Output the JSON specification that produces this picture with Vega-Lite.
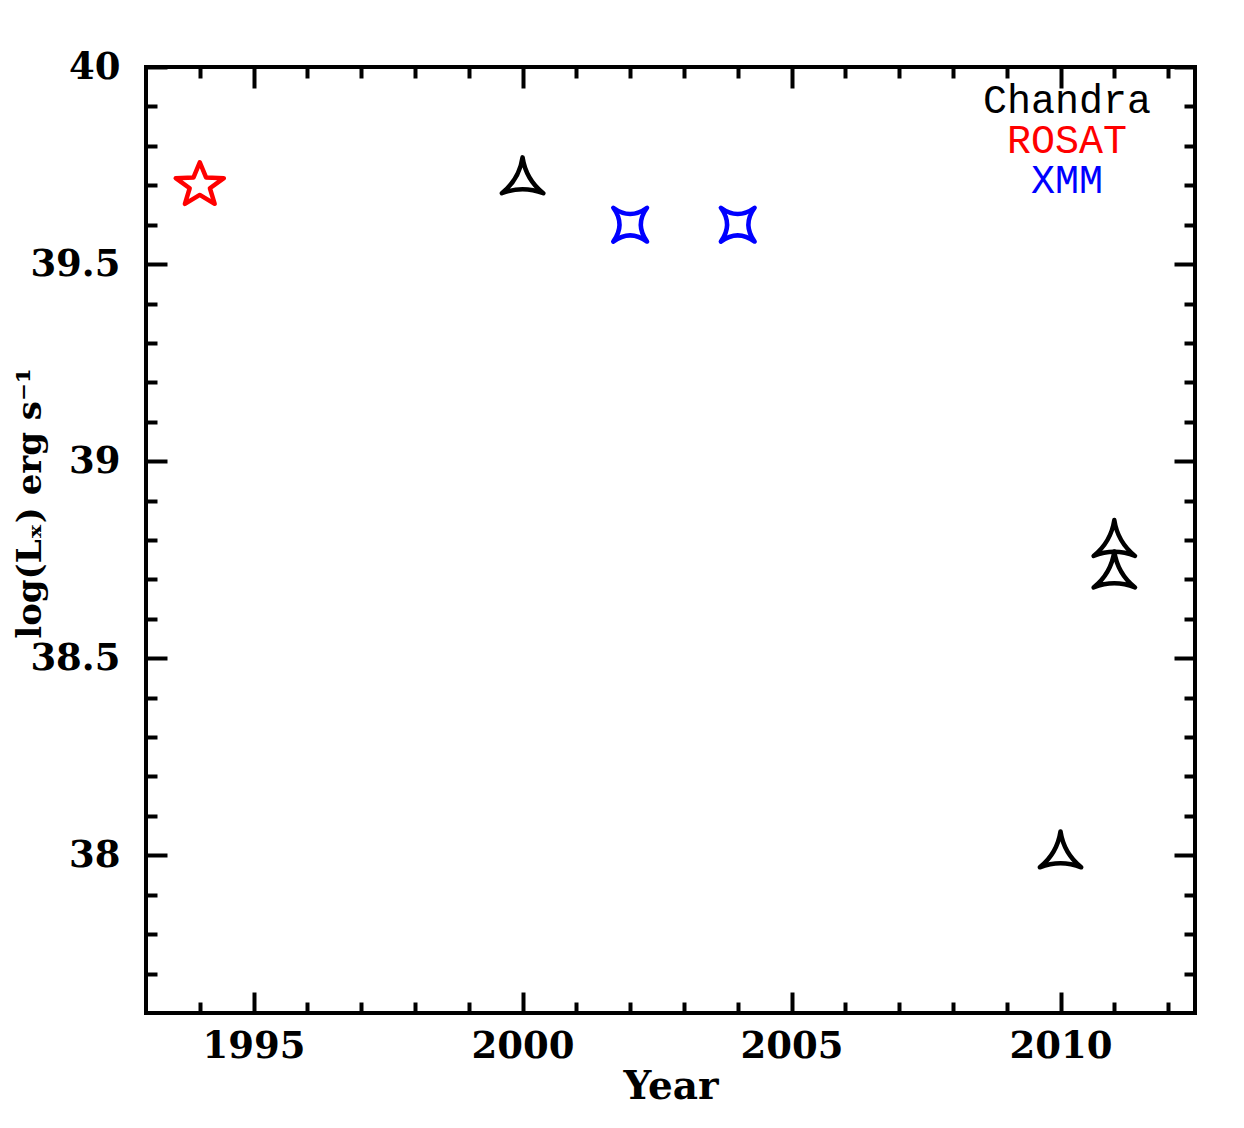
{
  "$schema": "https://vega.github.io/schema/vega-lite/v6.json",
  "width": 1049,
  "height": 946,
  "autosize": {"type": "none"},
  "padding": {"left": 146, "top": 67, "right": 49, "bottom": 115},
  "background": "white",
  "config": {
    "view": {"stroke": "black", "strokeWidth": 4},
    "axis": {
      "grid": false,
      "domain": false,
      "tickColor": "black",
      "tickWidth": 4,
      "labelFont": "DejaVu Serif",
      "labelFontWeight": "bold",
      "labelFontSize": 37,
      "labelColor": "black",
      "labelFlush": false,
      "labelOverlap": false,
      "titleFont": "DejaVu Serif",
      "titleFontWeight": "bold",
      "titleFontSize": 39,
      "titleColor": "black"
    }
  },
  "data": {
    "values": [
      {"year": 1994, "logLx": 39.7, "mission": "ROSAT"},
      {"year": 2000, "logLx": 39.71, "mission": "Chandra"},
      {"year": 2002, "logLx": 39.6, "mission": "XMM"},
      {"year": 2004, "logLx": 39.6, "mission": "XMM"},
      {"year": 2010, "logLx": 38.0, "mission": "Chandra"},
      {"year": 2011, "logLx": 38.79, "mission": "Chandra"},
      {"year": 2011, "logLx": 38.71, "mission": "Chandra"}
    ]
  },
  "layer": [
    {
      "mark": {"type": "point", "filled": false, "strokeWidth": 4.5, "size": 2704, "strokeJoin": "round", "opacity": 1},
      "encoding": {
        "x": {
          "field": "year", "type": "quantitative",
          "scale": {"domain": [1993, 2012.5], "nice": false, "zero": false},
          "axis": {"orient": "bottom", "values": [1995, 2000, 2005, 2010], "format": "d", "tickSize": -21, "labelPadding": 36, "title": "Year", "titlePadding": 3}
        },
        "y": {
          "field": "logLx", "type": "quantitative",
          "scale": {"domain": [37.6, 40], "nice": false, "zero": false},
          "axis": {"orient": "left", "values": [38, 38.5, 39, 39.5, 40], "format": "~g", "tickSize": -21, "labelPadding": 47, "title": "log(Lₓ) erg s⁻¹", "titleFontSize": 34, "titlePadding": -18, "titleY": 436}
        },
        "color": {
          "field": "mission", "type": "nominal",
          "scale": {"domain": ["Chandra", "ROSAT", "XMM"], "range": ["black", "red", "blue"]},
          "legend": {
            "orient": "top-right",
            "title": " ",
            "titleOrient": "right",
            "titleFontSize": 1,
            "titlePadding": 30,
            "labelFont": "Liberation Mono",
            "labelFontSize": 40,
            "labelLimit": 500,
            "labelAlign": "center",
            "labelColor": {"expr": "scale('color', datum.value)"},
            "symbolSize": 0,
            "symbolOpacity": 0,
            "symbolStrokeWidth": 0,
            "rowPadding": 0,
            "offset": 14
          }
        },
        "shape": {
          "field": "mission", "type": "nominal",
          "scale": {
            "domain": ["Chandra", "ROSAT", "XMM"],
            "range": [
              "M0,-0.92Q0.127,-0.074 0.797,0.46Q0,0.147 -0.797,0.46Q-0.127,-0.074 0,-0.92Z",
              "M0,-0.885L0.24,-0.301L0.925,-0.273L0.389,0.115L0.572,0.716L0,0.372L-0.572,0.716L-0.389,0.115L-0.925,-0.273L-0.24,-0.301Z",
              "M-0.65,-0.65Q0,-0.17 0.65,-0.65Q0.17,0 0.65,0.65Q0,0.17 -0.65,0.65Q-0.17,0 -0.65,-0.65Z"
            ]
          },
          "legend": null
        }
      }
    },
    {
      "mark": {"type": "point", "opacity": 0},
      "encoding": {
        "x": {"field": "year", "type": "quantitative",
          "axis": {"orient": "bottom", "values": [1994, 1996, 1997, 1998, 1999, 2001, 2002, 2003, 2004, 2006, 2007, 2008, 2009, 2011, 2012], "tickSize": -11, "labels": false, "title": null}},
        "y": {"field": "logLx", "type": "quantitative",
          "axis": {"orient": "left", "values": [37.7, 37.8, 37.9, 38.1, 38.2, 38.3, 38.4, 38.6, 38.7, 38.8, 38.9, 39.1, 39.2, 39.3, 39.4, 39.6, 39.7, 39.8, 39.9], "tickSize": -11, "labels": false, "title": null}}
      }
    },
    {
      "mark": {"type": "point", "opacity": 0},
      "encoding": {
        "x": {"field": "year", "type": "quantitative",
          "axis": {"orient": "top", "values": [1995, 2000, 2005, 2010], "tickSize": -21, "labels": false, "title": null}},
        "y": {"field": "logLx", "type": "quantitative",
          "axis": {"orient": "right", "values": [38, 38.5, 39, 39.5, 40], "tickSize": -21, "labels": false, "title": null}}
      }
    },
    {
      "mark": {"type": "point", "opacity": 0},
      "encoding": {
        "x": {"field": "year", "type": "quantitative",
          "axis": {"orient": "top", "values": [1994, 1996, 1997, 1998, 1999, 2001, 2002, 2003, 2004, 2006, 2007, 2008, 2009, 2011, 2012], "tickSize": -11, "labels": false, "title": null}},
        "y": {"field": "logLx", "type": "quantitative",
          "axis": {"orient": "right", "values": [37.7, 37.8, 37.9, 38.1, 38.2, 38.3, 38.4, 38.6, 38.7, 38.8, 38.9, 39.1, 39.2, 39.3, 39.4, 39.6, 39.7, 39.8, 39.9], "tickSize": -11, "labels": false, "title": null}}
      }
    }
  ],
  "resolve": {"axis": {"x": "independent", "y": "independent"}}
}
